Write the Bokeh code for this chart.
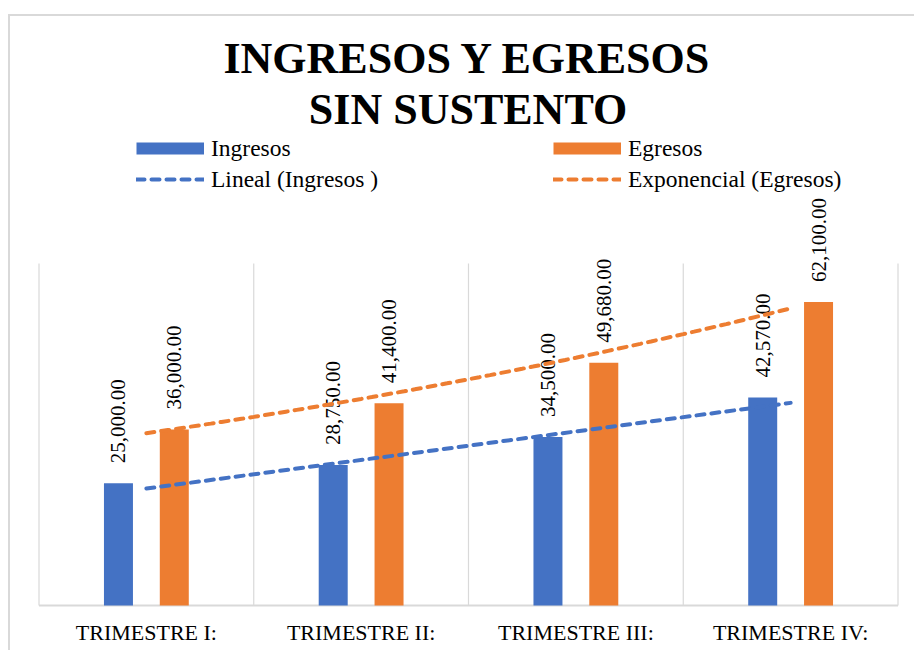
import numpy as np
from bokeh.plotting import figure
from bokeh.models import Range1d, FixedTicker, Title, Legend, LegendItem
from bokeh.embed import file_html
from bokeh.resources import INLINE
from bokeh.core.properties import value

# ---- data ----
categories = ["TRIMESTRE I:", "TRIMESTRE II:", "TRIMESTRE III:", "TRIMESTRE IV:"]
ingresos = [25000.00, 28750.00, 34500.00, 42570.00]
egresos = [36000.00, 41400.00, 49680.00, 62100.00]
y_axis_max = 70000
title_line1 = "INGRESOS Y EGRESOS"
title_line2 = "SIN SUSTENTO"

# ---- styles / layout ----
BLUE = "#4472C4"
ORANGE = "#ED7D31"
GRID = "#d9d9d9"
SERIF = "Liberation Serif"

W, H = 914, 650
FRAME_L, FRAME_R, FRAME_T, FRAME_B = 36, 899, 133, 607
X0_PX, X1_PX = 38.5, 897.5      # pixel positions of category boundaries 0.5 / n+0.5
Y0_PX, YMAX_PX = 605, 263       # pixel positions of 0 and y_axis_max

n = len(categories)
xs = np.arange(1, n + 1)
ppx = (X1_PX - X0_PX) / n
x_start = 0.5 - (X0_PX - FRAME_L) / ppx
x_end = n + 0.5 + (FRAME_R - X1_PX) / ppx
ppy = (Y0_PX - YMAX_PX) / y_axis_max
y_start = -(FRAME_B - Y0_PX) / ppy
y_end = (Y0_PX - FRAME_T) / ppy

p = figure(width=W, height=H, output_backend="svg", toolbar_location=None,
           title=None, x_range=Range1d(x_start, x_end), y_range=Range1d(y_start, y_end),
           min_border_left=FRAME_L, min_border_right=W - FRAME_R,
           min_border_top=FRAME_T, min_border_bottom=H - FRAME_B)
p.border_fill_color = None
p.background_fill_color = None
p.outline_line_color = None
p.styles = {"background": ("linear-gradient(#d9d9d9,#d9d9d9) 8px 14px / 100% 2px no-repeat, "
                           "linear-gradient(#d9d9d9,#d9d9d9) 8px 14px / 2px 100% no-repeat, #ffffff")}
p.xgrid.visible = False
p.ygrid.visible = False
p.yaxis.visible = False

# vertical gridlines at category boundaries
bounds = np.arange(0.5, n + 1.0, 1.0)
p.segment(x0=bounds, y0=[0] * len(bounds), x1=bounds, y1=[y_axis_max] * len(bounds),
          line_color=GRID, line_width=1.2)
# baseline
p.segment(x0=[0.5], y0=[0], x1=[n + 0.5], y1=[0], line_color=GRID, line_width=2)

# bars
off, bw = 0.13, 0.135
p.vbar(x=xs - off, top=ingresos, width=bw, fill_color=BLUE, line_color=None)
p.vbar(x=xs + off, top=egresos, width=bw, fill_color=ORANGE, line_color=None)

# data labels
lab_kw = dict(angle=np.pi / 2, text_align="left", text_baseline="middle",
              text_font=value(SERIF), text_font_size="21px", text_color="#000000", y_offset=-20)
p.text(x=xs - off, y=ingresos, text=[f"{v:,.2f}" for v in ingresos], **lab_kw)
p.text(x=xs + off, y=egresos, text=[f"{v:,.2f}" for v in egresos], **lab_kw)

# trendlines (fitted from the data, as in the source chart)
lin = np.polyfit(xs, ingresos, 1)
xl = np.array([xs[0], xs[-1]], dtype=float)
r_lin = p.line(x=xl, y=np.polyval(lin, xl), line_color=BLUE, line_width=4,
               line_dash="8 7", line_cap="round")
expc = np.polyfit(xs, np.log(egresos), 1)
xe = np.linspace(xs[0], xs[-1], 61)
r_exp = p.line(x=xe, y=np.exp(np.polyval(expc, xe)), line_color=ORANGE, line_width=4,
               line_dash="8 7", line_cap="round")

# legend proxies for the bar series (no visible data)
r_ing = p.line(x=[np.nan], y=[np.nan], line_color=BLUE, line_width=12)
r_egr = p.line(x=[np.nan], y=[np.nan], line_color=ORANGE, line_width=12)

legend = Legend(items=[LegendItem(label="Ingresos", renderers=[r_ing]),
                       LegendItem(label="Lineal (Ingresos )", renderers=[r_lin]),
                       LegendItem(label="Egresos", renderers=[r_egr]),
                       LegendItem(label="Exponencial (Egresos)", renderers=[r_exp])],
                orientation="vertical", ncols=2,
                location=(100, FRAME_B - 192.5),
                glyph_width=68, glyph_height=26, label_height=26, label_standoff=7,
                label_width=338, spacing=4, padding=0, margin=0,
                border_line_color=None, background_fill_alpha=0,
                label_text_font=SERIF, label_text_font_size="23.5px", label_text_color="#000000")
p.add_layout(legend)

# x axis
p.xaxis.ticker = FixedTicker(ticks=[int(v) for v in xs])
p.xaxis.major_label_overrides = {int(v): c for v, c in zip(xs, categories)}
p.xaxis.axis_line_color = None
p.xaxis.major_tick_line_color = None
p.xaxis.minor_tick_line_color = None
p.xaxis.major_tick_out = 0
p.xaxis.major_tick_in = 0
p.xaxis.major_label_standoff = 12
p.xaxis.major_label_text_font = SERIF
p.xaxis.major_label_text_font_size = "22px"
p.xaxis.major_label_text_color = "#000000"

# titles (first added sits nearest the plot)
for t in (title_line2, title_line1):
    p.add_layout(Title(text=t, align="center", text_font=SERIF, text_font_size="44px",
                       text_font_style="bold", text_color="#000000", standoff=0), "above")

open("out.html", "w").write(file_html(p, INLINE))
